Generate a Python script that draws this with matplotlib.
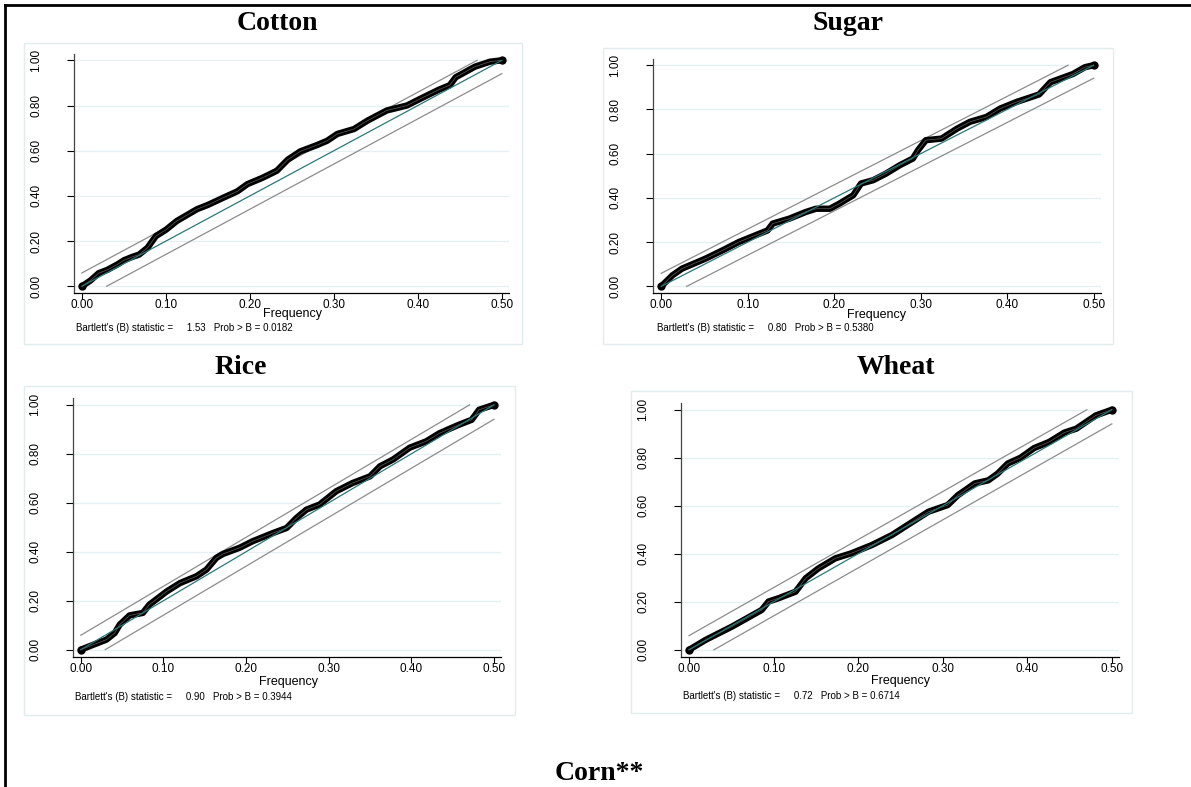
import matplotlib
matplotlib.use("Agg")
import matplotlib.pyplot as plt
from matplotlib.patches import Rectangle
from matplotlib.lines import Line2D

# ---- data ----
cotton_x = [0, .010, .020, .030, .042, .050, .060, .068, .078, .088, .100, .113, .125, .137, .150,
            .169, .185, .197, .215, .232, .245, .260, .280, .292, .304, .324, .340, .363, .387, .403,
            .425, .438, .445, .468, .486, .500]
cotton_y = [0, .025, .058, .072, .096, .115, .130, .140, .170, .222, .250, .289, .315, .341, .360,
            .393, .420, .452, .480, .511, .560, .597, .625, .644, .674, .696, .733, .778, .800, .830,
            .870, .890, .925, .972, .994, 1.0]

sugar_x = [0, .013, .024, .051, .071, .090, .109, .123, .129, .148, .167, .179, .195, .206, .222,
           .231, .245, .260, .276, .291, .297, .306, .324, .342, .357, .376, .392, .411, .431, .437,
           .450, .476, .490, .500]
sugar_y = [0, .050, .080, .125, .163, .201, .231, .253, .284, .306, .336, .351, .351, .374, .412,
           .465, .480, .510, .548, .578, .616, .661, .668, .713, .744, .766, .804, .834, .860, .868,
           .923, .960, .991, 1.0]

rice_x = [0, .015, .031, .041, .047, .059, .075, .083, .104, .120, .140, .152, .164, .172, .192,
          .208, .233, .249, .261, .273, .289, .309, .329, .350, .362, .378, .398, .418, .434, .457,
          .473, .482, .500]
rice_y = [0, .020, .041, .068, .102, .140, .150, .184, .238, .272, .300, .327, .375, .391, .416,
          .443, .477, .497, .538, .572, .593, .647, .681, .708, .749, .777, .825, .851, .884, .918,
          .939, .980, 1.0]

wheat_x = [0, .020, .051, .086, .094, .106, .126, .138, .153, .173, .192, .216, .240, .255, .283,
           .306, .318, .338, .354, .365, .377, .392, .408, .426, .444, .458, .481, .500]
wheat_y = [0, .042, .097, .166, .201, .215, .242, .298, .339, .381, .402, .436, .478, .512, .575,
           .603, .644, .693, .706, .734, .776, .800, .840, .866, .905, .921, .976, 1.0]

titles = ["Cotton", "Sugar", "Rice", "Wheat"]
bartlett_b = ["1.53", "0.80", "0.90", "0.72"]
bartlett_p = ["0.0182", "0.5380", "0.3944", "0.6714"]
band = 0.059  # half-width of the 95% band
yticks = [0, 0.2, 0.4, 0.6, 0.8, 1.0]
xticks = [0, 0.1, 0.2, 0.3, 0.4, 0.5]

W, H = 1191, 787
fig = plt.figure(figsize=(W / 100, H / 100), dpi=100)
plt.rcParams['font.family'] = ['Liberation Sans', 'DejaVu Sans']

def fx(x):
    return x / W

def fy(y):
    return 1 - y / H

# pixel layout: axes (left, right, top, bottom), box, title centre, text anchors
panels = [
    dict(ax=(74, 509, 54, 293), box=(24, 522, 43, 344), title=(277, 23), freq=(292, 314), note=(76, 328)),
    dict(ax=(653, 1101, 59, 293), box=(603, 1113, 48, 344), title=(848, 23), freq=(877, 315), note=(657, 328)),
    dict(ax=(73, 501, 398, 657), box=(24, 515, 386, 715), title=(241, 367), freq=(288, 682), note=(75, 697)),
    dict(ax=(681, 1119, 403, 657), box=(631, 1132, 391, 713), title=(896, 367), freq=(900, 681), note=(683, 696)),
]
series = [(cotton_x, cotton_y), (sugar_x, sugar_y), (rice_x, rice_y), (wheat_x, wheat_y)]

for p, (xs, ys), title, b, pr in zip(panels, series, titles, bartlett_b, bartlett_p):
    l, r, t, btm = p["box"]
    fig.add_artist(Rectangle((fx(l), fy(btm)), (r - l) / W, (btm - t) / H, transform=fig.transFigure,
                             fill=False, ec='#e2ecee', lw=1.0))
    fig.text(fx(p["title"][0]), fy(p["title"][1]), title, ha='center', va='center',
             family='Liberation Serif', weight='bold', fontsize=20)

    l, r, t, btm = p["ax"]
    ax = fig.add_axes([fx(l), fy(btm), (r - l) / W, (btm - t) / H])
    ax.set_xlim(-0.0095, 0.5085)
    ax.set_ylim(-0.03, 1.028)
    for g in yticks:
        ax.axhline(g, color='#e6eff1', lw=0.9, zorder=0)

    # 95% bands and reference diagonal
    ax.plot([0, (1 - band) / 2], [band, 1], color='#8c8c8c', lw=0.9, zorder=1)
    ax.plot([band / 2, 0.5], [0, 1 - band], color='#8c8c8c', lw=0.9, zorder=1)
    ax.plot(xs, ys, color='black', lw=4.6, solid_capstyle='round',
            solid_joinstyle='round', zorder=2)
    ax.plot(xs[0::len(xs) - 1], ys[0::len(ys) - 1], 'o', color='black', ms=5, zorder=2)
    ax.plot(xs, ys, color='#5e5e5e', lw=0.5, zorder=3)
    ax.plot([0, 0.5], [0, 1], color='#2c7877', lw=0.9, zorder=4)

    ax.set_xticks(xticks)
    ax.set_xticklabels([f"{v:.2f}" for v in xticks])
    ax.set_yticks(yticks)
    ax.set_yticklabels([f"{v:.2f}" for v in yticks], rotation=90, va='center')
    ax.tick_params(axis='x', length=4, width=0.8, pad=0.5, labelsize=8.5)
    ax.tick_params(axis='y', length=5, width=0.8, pad=18, labelsize=8.5)
    for s in ['top', 'right']:
        ax.spines[s].set_visible(False)
    ax.spines['left'].set_color('#444444')
    ax.spines['bottom'].set_color('black')
    ax.spines['left'].set_linewidth(0.9)
    ax.spines['bottom'].set_linewidth(0.9)

    fig.text(fx(p["freq"][0]), fy(p["freq"][1]), "Frequency", ha='center', va='center', fontsize=9)
    fig.text(fx(p["note"][0]), fy(p["note"][1]),
             f"Bartlett's (B) statistic =     {b}   Prob > B = {pr}",
             ha='left', va='center', fontsize=7)

fig.text(fx(599), fy(773), "Corn**", ha='center', va='center',
         family='Liberation Serif', weight='bold', fontsize=20)

# outer frame (top and left edges)
fig.add_artist(Line2D([fx(5), 1], [fy(5), fy(5)], transform=fig.transFigure, color='black', lw=2))
fig.add_artist(Line2D([fx(5), fx(5)], [fy(5), 0], transform=fig.transFigure, color='black', lw=2))

fig.savefig("out.png", dpi=100)
